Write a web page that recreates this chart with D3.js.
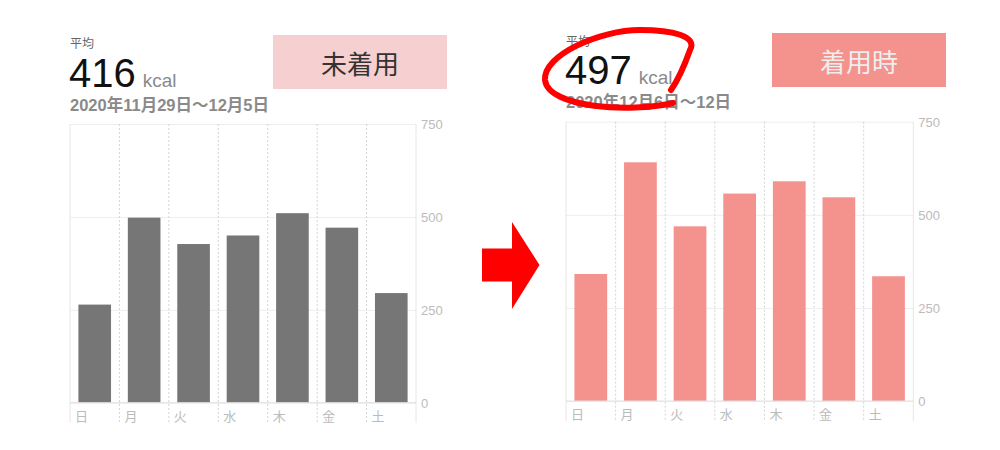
<!DOCTYPE html>
<html>
<head>
<meta charset="utf-8">
<script src="https://cdn.jsdelivr.net/npm/d3@7"></script>
<style>
	body { margin: 0; background: #fff; }
	svg { display: block; font-family: "Liberation Sans", "Noto Sans CJK JP", sans-serif; }
	.tick text { fill: #bbb; font-size: 13px; }
</style>
</head>
<body>
<svg id="chart" width="1000" height="450"></svg>
<script>
const DAYS = ['日', '月', '火', '水', '木', '金', '土'];
const BEFORE_KCAL = [264, 498, 427, 450, 510, 471, 295];
const AFTER_KCAL = [341, 641, 469, 557, 590, 547, 335];
const Y_TICKS = [0, 250, 500, 750];
const AVERAGES = [416, 497];
const RANGES = ['2020年11月29日〜12月5日', '2020年12月6日〜12日'];
const BADGES = ['未着用', '着用時'];

// one panel = header + bar chart
function drawPanel(svg, values, avg, range, badge, p) {
	const g = svg.append('g');
	const cols = d3.scaleBand().domain(DAYS).range([p.x0, p.x1]);
	const bars = d3.scaleBand().domain(DAYS).range([p.x0, p.x1])
		.paddingInner(0.34).paddingOuter(0.17);
	const y = d3.scaleLinear().domain([0, 750]).range([p.y1, p.y0]);

	// header
	g.append('text').attr('x', p.x0).attr('y', p.y0 - 76)
		.attr('font-size', 12).attr('fill', '#666')
		.style('font-family', '"Noto Sans CJK JP"').text('平均');
	const num = g.append('text').attr('x', p.x0 - 1).attr('y', p.y0 - 37.5);
	num.append('tspan').attr('font-size', 40).attr('fill', '#111').text(avg);
	num.append('tspan').attr('dx', 7).attr('font-size', 19).attr('fill', '#8a8a8a').text('kcal');
	g.append('text').attr('x', p.x0).attr('y', p.y0 - 13.5)
		.attr('font-size', 16.5).attr('fill', '#8a8a8a').attr('font-weight', 'bold')
		.text(range);

	g.append('rect').attr('x', p.bx).attr('y', p.by).attr('width', 174).attr('height', 54)
		.attr('fill', p.badgeFill);
	g.append('text').attr('x', p.bx + 87).attr('y', p.by + 27)
		.attr('text-anchor', 'middle').attr('dominant-baseline', 'central')
		.attr('font-size', 26).attr('fill', p.badgeText)
		.style('font-family', '"Noto Sans CJK JP"').text(badge);

	// grid + y axis on the right
	const yAxis = d3.axisRight(y).tickValues(Y_TICKS)
		.tickSize(-(p.x1 - p.x0)).tickPadding(5);
	const ya = g.append('g').attr('transform', `translate(${p.x1},0)`).call(yAxis);
	ya.select('.domain').remove();
	ya.selectAll('.tick line').attr('stroke', '#eee');
	ya.selectAll('.tick text').attr('dy', '0.36em');

	// column separators
	g.selectAll('.sep').data(DAYS.slice(1)).enter().append('line')
		.attr('x1', d => cols(d)).attr('x2', d => cols(d))
		.attr('y1', p.y0).attr('y2', p.y1 + 20)
		.attr('stroke', '#d4d4d4').attr('stroke-dasharray', '2,2');
	[p.x0, p.x1].forEach(x => g.append('line')
		.attr('x1', x).attr('x2', x).attr('y1', p.y0).attr('y2', p.y1 + 20)
		.attr('stroke', '#e6e6e6'));

	g.selectAll('.bar').data(values).enter().append('rect')
		.attr('x', (d, i) => bars(DAYS[i]))
		.attr('y', d => y(d))
		.attr('width', bars.bandwidth())
		.attr('height', d => y(0) - y(d))
		.attr('fill', p.barFill);

	g.append('line').attr('x1', p.x0).attr('x2', p.x1)
		.attr('y1', y(0)).attr('y2', y(0)).attr('stroke', '#e0e0e0');

	g.selectAll('.day').data(DAYS).enter().append('text')
		.attr('x', d => cols(d) + 5).attr('y', p.y1 + 18)
		.attr('font-size', 13).attr('fill', '#bbb')
		.style('font-family', '"Noto Sans CJK JP"').text(d => d);
}

whenReady(() => {
	const svg = d3.select('#chart');
	drawPanel(svg, BEFORE_KCAL, AVERAGES[0], RANGES[0], BADGES[0], {
		x0: 70, x1: 416, y0: 124, y1: 402.7, bx: 273, by: 35,
		badgeFill: '#f6cfd1', badgeText: '#333', barFill: '#767676'
	});
	drawPanel(svg, AFTER_KCAL, AVERAGES[1], RANGES[1], BADGES[1], {
		x0: 566, x1: 913.3, y0: 121.7, y1: 401, bx: 772, by: 33,
		badgeFill: '#f4928e', badgeText: '#eeeeee', barFill: '#f4928e'
	});

	// arrow between the two panels
	svg.append('path')
		.attr('d', 'M482,248.5 H512 V222 L539.5,265 L512,309 V281.5 H482 Z')
		.attr('fill', '#ff0000');

	// hand drawn circle around the new average
	svg.append('path')
		.attr('d', 'M673,103 C630,113 548,108 545,80 C543,55 600,30 640,30 C672,30 698,36 690,50 C685,64 678,80 671,90')
		.attr('fill', 'none').attr('stroke', '#ff0000').attr('stroke-width', 6)
		.attr('stroke-linecap', 'round');
});

function whenReady(action) {
	if (document.readyState === 'loading') {
		document.addEventListener('DOMContentLoaded', action);
	} else {
		action();
	}
}
</script>
</body>
</html>
